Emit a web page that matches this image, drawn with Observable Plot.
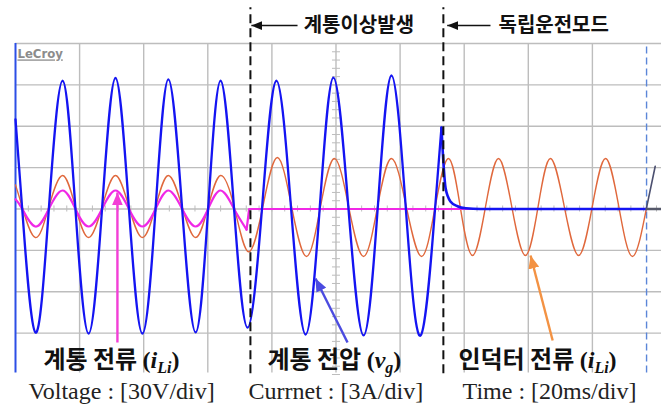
<!DOCTYPE html>
<html><head><meta charset="utf-8">
<script src="https://cdn.jsdelivr.net/npm/d3@7"></script>
<script src="https://cdn.jsdelivr.net/npm/@observablehq/plot@0.6"></script>
<style>body{margin:0;background:#fff}</style>
</head><body><div id="chart"></div>
<script>
// ---- axis structure (oscilloscope grid: 20 ms/div, 30 V/div, 3 A/div) ----
const gridTimes = [20, 40, 60, 80, 100, 120, 140, 160, 180];
const gridVolts = [-90, -60, -30, 0, 30, 60, 90, 120];
const minorTimes = d3.range(0, 201, 4);
const minorVolts = d3.range(-120, 121, 6);

// ---- grid voltage v_g [V] (blue) ----
const voltageT = [0, 2.1, 6.2, 10.4, 14.7, 18.7, 22.8, 27.0, 31.2, 35.4, 39.6, 43.7, 47.7, 52.0, 56.2, 60.1, 64.0, 68.2, 72.4, 76.9, 81.4, 86.0, 90.5, 94.9, 99.2, 103.9, 108.6, 113.0, 117.3, 121.8, 126.4, 130.9, 132.9];
const voltageV = [65, 0, -89.5, 0, 93, 0, -90.3, 0, 95, 0, -90.3, 0, 94, 0, -89.5, 0, 93, 0, -86, 0, 93, 0, -91, 0, 95.3, 0, -91.7, 0, 96.8, 0, -91.7, 0, 59];
const voltageTailT = [132.9, 134.2, 135.7, 137.9, 140.5, 145, 196.9];
const voltageTailV = [59, 15, 5.5, 2, 0.5, 0, 0];
const voltagePastT = [196.9, 201.5];
const voltagePastV = [0, 0];

// ---- inverter current i_Li [A] (orange) ----
const inverterT = [0, 2.1, 6.2, 10.4, 14.7, 18.7, 22.8, 27.0, 31.2, 35.4, 39.6, 43.7, 47.7, 52.0, 56.2, 60.1, 64.0, 68.3, 72.7, 77.2, 81.7, 86.2, 90.8, 95.1, 99.5, 104.0, 108.6, 112.9, 117.3, 122.0, 126.7, 130.9, 135.1, 138.8, 142.6, 146.6, 150.7, 154.9, 159.1, 163.0, 166.9, 171.3, 175.7, 179.9, 184.1, 188.3, 192.5, 196.9];
const inverterA = [1.75, 0.15, -2.07, 0.15, 2.43, 0.15, -2.07, 0.15, 2.43, 0.15, -2.07, 0.15, 2.43, 0.15, -2.07, 0.15, 2.43, 0.1, -3.1, 0.2, 3.73, 0.1, -3.44, 0.1, 3.66, 0.1, -3.44, 0.1, 3.66, 0.1, -3.44, 0.1, 3.66, 0.1, -3.37, 0.1, 3.66, 0.1, -3.37, 0.1, 3.66, 0.1, -3.37, 0.1, 3.66, 0.1, -3.44, 0.1];
const inverterPastT = [196.9, 199.6];
const inverterPastA = [0.1, 3.1];

// ---- grid current [A] (magenta) ----
const gridCurT = [0, 2.1, 6.2, 10.4, 14.7, 18.7, 22.8, 27.0, 31.2, 35.4, 39.6, 43.7, 47.7, 52.0, 56.2, 60.1, 64.0, 68.2, 72.1];
const gridCurA = [0.7, 0, -1.27, 0, 1.34, 0, -1.27, 0, 1.34, 0, -1.27, 0, 1.34, 0, -1.27, 0, 1.34, 0, -1.49];
const gridCurTailT = [72.1, 72.9, 196.9];
const gridCurTailA = [-1.49, 0, 0];

// ---- events / annotations ----
const eventTimes = [73.3, 133.5];
const cursorTimes = [196.9];
const topLabels = ["계통이상발생", "독립운전모드"];
const topLabelT = [89.9, 150.7];
const topArrowFrom = [88.0, 148.2];
const topArrowTo = [73.6, 134.7];
const bottomLabels = ["계통 전류 (i_Li)", "계통 전압 (v_g)", "인덕터 전류 (i_Li)"];
const bottomLabelT = [8.7, 78.6, 138.2];
const captions = ["Voltage : [30V/div]", "Currnet : [3A/div]", "Time : [20ms/div]"];
const captionT = [4.06, 72.7, 139.5];
const pointerFromT = [31.8, 103.6, 167.6];
const pointerFromV = [-96.8, -96.8, -95.3];
const pointerToT = [31.8, 93.6, 160.7];
const pointerToV = [12.0, -50.4, -33.7];
const pointerColors = ["#f23fd6", "#4b4be0", "#f39243"];

// ---- build tables ----
const pts = (t, v) => t.map((d, i) => ({t: d, v: v[i]}));
const voltage = pts(voltageT, voltageV);
const voltageTail = pts(voltageTailT, voltageTailV);
const voltagePast = pts(voltagePastT, voltagePastV);
const inverter = pts(inverterT, inverterA);
const inverterPast = pts(inverterPastT, inverterPastA);
const gridCur = pts(gridCurT, gridCurA);
const gridCurTail = pts(gridCurTailT, gridCurTailA);
const tops = topLabels.map((s, i) => ({s, t: topLabelT[i], t1: topArrowFrom[i], t2: topArrowTo[i]}));
const bottoms = bottomLabels.map((s, i) => ({s, t: bottomLabelT[i]}));
const caps = captions.map((s, i) => ({s, t: captionT[i]}));
const pointers = pointerColors.map((c, i) => ({c, x1: pointerFromT[i], y1: pointerFromV[i], x2: pointerToT[i], y2: pointerToV[i]}));

const A2V = 10; // 3 A/div drawn on the 30 V/div grid

function head(len, half) {
  return (color) => {
    const m = d3.create("svg:marker")
      .attr("viewBox", `${-len} ${-half} ${len} ${2 * half}`)
      .attr("markerWidth", len).attr("markerHeight", 2 * half)
      .attr("markerUnits", "userSpaceOnUse")
      .attr("orient", "auto")
      .attr("refX", 0).attr("refY", 0)
      .attr("fill", color).attr("stroke", "none");
    m.append("path").attr("d", `M0,0L${-len},${-half}L${-len},${half}Z`);
    return m.node();
  };
}

const KR = "'Noto Sans CJK KR', 'Noto Sans', sans-serif";
const SERIF = "'Liberation Serif', 'Times New Roman', serif";

const plot = Plot.plot({
  width: 661, height: 410,
  marginLeft: 15, marginRight: 0, marginTop: 43, marginBottom: 36,
  x: {domain: [0, 201.56], axis: null},
  y: {domain: [-120, 120], axis: null},
  style: {fontFamily: KR, background: "#fff"},
  marks: [
    Plot.ruleY(gridVolts, {stroke: "#bdbdbd", strokeWidth: 1.4}),
    Plot.ruleX(gridTimes, {y1: -119, y2: 120, stroke: "#bdbdbd", strokeWidth: 1.4}),
    Plot.ruleX(minorTimes, {y1: -2.2, y2: 2.2, stroke: "#bdbdbd", strokeWidth: 1}),
    Plot.ruleY(minorVolts, {x1: 98.9, x2: 101.4, stroke: "#bdbdbd", strokeWidth: 1}),
    Plot.ruleX([0], {y1: -119, y2: 120, stroke: "#2c4fe6", strokeWidth: 2}),
    Plot.ruleX(cursorTimes, {y1: -119, y2: 120, stroke: "#5b86d8", strokeWidth: 1.4, strokeDasharray: "7,4"}),
    Plot.text(["LeCroy"], {x: 0.6, y: 112.2, text: d => d, textAnchor: "start", fill: "#8c8c8c", fontSize: 13, fontWeight: 600, fontFamily: "'DejaVu Sans Condensed', 'DejaVu Sans', sans-serif"}),

    // traces
    Plot.line(inverter, {x: "t", y: d => d.v * A2V, curve: "natural", stroke: "#e0683c", strokeWidth: 1.4}),
    Plot.line(inverterPast, {x: "t", y: d => d.v * A2V, stroke: "#4c5070", strokeWidth: 1.6}),
    Plot.line(gridCur, {x: "t", y: d => d.v * A2V, curve: "natural", stroke: "#f028e6", strokeWidth: 2.2}),
    Plot.line(gridCurTail, {x: "t", y: d => d.v * A2V, stroke: "#f028e6", strokeWidth: 2.2}),
    Plot.line(voltage, {x: "t", y: "v", curve: "natural", stroke: "#1414f2", strokeWidth: 2.3}),
    Plot.line(voltageTail, {x: "t", y: "v", curve: "monotone-x", stroke: "#1414f2", strokeWidth: 2.6}),
    Plot.line(voltagePast, {x: "t", y: "v", stroke: "#55586a", strokeWidth: 2.6}),

    // event markers
    Plot.ruleX(eventTimes, {y1: -119.5, y2: 146, stroke: "#111", strokeWidth: 2, strokeDasharray: "9,5"}),
    Plot.link(tops, {x1: "t1", x2: "t2", y1: 133, y2: 133, stroke: "#111", strokeWidth: 1.6, markerEnd: head(11, 4.5)}),
    Plot.text(tops, {x: "t", y: 133, text: "s", textAnchor: "start", fontSize: 20, fontWeight: 700, fill: "#111", fontFamily: KR}),

    // pointers and labels
    Plot.link(pointers, {x1: "x1", y1: "y1", x2: "x2", y2: "y2", stroke: "c", strokeWidth: 2.4, markerEnd: head(13, 5.5)}),
    Plot.text(bottoms, {x: "t", y: -110, text: "s", textAnchor: "start", fontSize: 24, fontWeight: 700, fill: "#111", fontFamily: KR}),
    Plot.text(caps, {x: "t", y: -132.5, text: "s", textAnchor: "start", fontSize: 24, fontWeight: 400, fill: "#222", fontFamily: SERIF})
  ]
});

// rich text: italic symbol with subscript
d3.select(plot).selectAll("text").each(function () {
  const s = this.textContent;
  if (s === "LeCroy") { this.setAttribute("text-decoration", "underline"); return; }
  const m = s.match(/^(.*)\((\w)_(\w+)\)$/);
  if (!m) return;
  const el = d3.select(this);
  el.text(null);
  el.append("tspan").text(m[1]);
  const g = el.append("tspan").attr("font-family", SERIF);
  g.append("tspan").text("(");
  g.append("tspan").attr("font-style", "italic").text(m[2]);
  g.append("tspan").attr("font-style", "italic").attr("font-size", "16").attr("dy", "5").text(m[3]);
  g.append("tspan").attr("dy", "-5").text(")");
});

document.getElementById("chart").appendChild(plot);
</script>
</body></html>
